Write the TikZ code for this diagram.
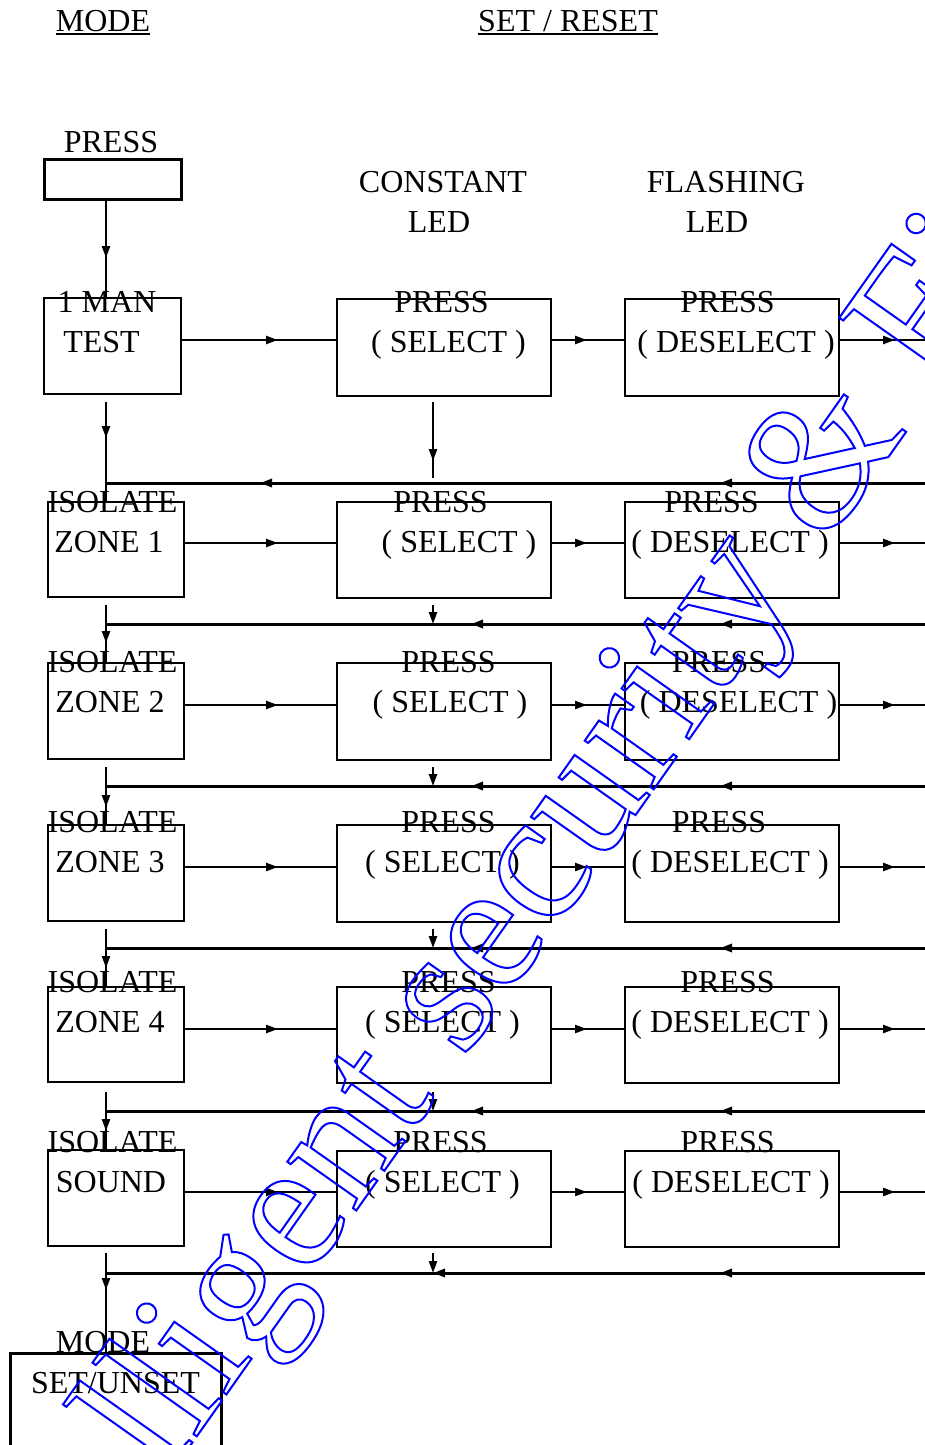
\documentclass[tikz,border=0pt]{standalone}
\usepackage{fontspec}
\setmainfont{Liberation Serif}
\usetikzlibrary{arrows.meta,decorations.markings}
\tikzset{
  bx/.style={draw, line width=2.4pt, inner sep=0pt, outer sep=0pt, anchor=north west},
  lbl/.style={anchor=base, inner sep=0pt, font=\fontsize{32}{38}\selectfont},
  ln/.style={line width=2.4pt},
  rln/.style={line width=3pt},
  tipa/.tip={Triangle[length=12pt,width=8pt]},
  mk/.style={postaction={decorate}, decoration={markings, mark=at position #1 with {\arrow{tipa}}}},
  mktwo/.style 2 args={postaction={decorate}, decoration={markings, mark=at position #1 with {\arrow{tipa}}, mark=at position #2 with {\arrow{tipa}}}},
  uline/.style={line width=1.6pt},
}
\begin{document}
\begin{tikzpicture}[x=1pt,y=-1pt]
\useasboundingbox (0,0) rectangle (925,1445);
\fill[white] (0,0) rectangle (925,1445);

% headers
\node[lbl] (hmode) at (103,32) {MODE};
\node[lbl] (hset) at (568,32) {SET / RESET};
\draw[uline] ([yshift=-2pt]hmode.base west) -- ([yshift=-2pt]hmode.base east);
\draw[uline] ([yshift=-2pt]hset.base west) -- ([yshift=-2pt]hset.base east);
\node[lbl] (hpress) at (111,152) {PRESS};
\node[lbl] (hconst) at (443,192) {CONSTANT};
\node[lbl] (hled1) at (439,232) {LED};
\node[lbl] (hflash) at (726,192) {FLASHING};
\node[lbl] (hled2) at (717,232) {LED};

% left column boxes
\node[bx, line width=3pt, minimum width=137pt, minimum height=40pt] (pbox) at (44,159) {};
\node[bx, line width=2.7pt, minimum width=137pt, minimum height=96pt] (test) at (44,298) {};
\node[bx, minimum width=136pt, minimum height=95pt] (z1) at (48,502) {};
\node[bx, minimum width=136pt, minimum height=96pt] (z2) at (48,663) {};
\node[bx, minimum width=136pt, minimum height=96pt] (z3) at (48,825) {};
\node[bx, minimum width=136pt, minimum height=95pt] (z4) at (48,987) {};
\node[bx, minimum width=136pt, minimum height=96pt] (snd) at (48,1150) {};
\node[bx, line width=3pt, minimum width=211pt, minimum height=130pt] (mbox) at (10,1353) {};

% select / deselect boxes
\node[bx, minimum width=214pt, minimum height=97pt] (s0) at (337,299) {};
\node[bx, minimum width=214pt, minimum height=97pt] (d0) at (625,299) {};
\node[bx, minimum width=214pt, minimum height=96pt] (s1) at (337,502) {};
\node[bx, minimum width=214pt, minimum height=96pt] (d1) at (625,502) {};
\node[bx, minimum width=214pt, minimum height=97pt] (s2) at (337,663) {};
\node[bx, minimum width=214pt, minimum height=97pt] (d2) at (625,663) {};
\node[bx, minimum width=214pt, minimum height=97pt] (s3) at (337,825) {};
\node[bx, minimum width=214pt, minimum height=97pt] (d3) at (625,825) {};
\node[bx, minimum width=214pt, minimum height=96pt] (s4) at (337,987) {};
\node[bx, minimum width=214pt, minimum height=96pt] (d4) at (625,987) {};
\node[bx, minimum width=214pt, minimum height=96pt] (s5) at (337,1151) {};
\node[bx, minimum width=214pt, minimum height=96pt] (d5) at (625,1151) {};

% left labels
\node[lbl] (t0a) at (107,312) {1 MAN};
\node[lbl] (t0b) at (101.5,352) {TEST};
\node[lbl] (t1a) at (112.5,512) {ISOLATE};
\node[lbl] (t1b) at (109,552) {ZONE 1};
\node[lbl] (t2a) at (112.5,672) {ISOLATE};
\node[lbl] (t2b) at (110,712) {ZONE 2};
\node[lbl] (t3a) at (112.5,832) {ISOLATE};
\node[lbl] (t3b) at (110,872) {ZONE 3};
\node[lbl] (t4a) at (112.5,992) {ISOLATE};
\node[lbl] (t4b) at (110,1032) {ZONE 4};
\node[lbl] (t5a) at (112.5,1152) {ISOLATE};
\node[lbl] (t5b) at (111,1192) {SOUND};
\node[lbl] (tma) at (103,1352) {MODE};
\node[lbl] (tmb) at (115.5,1393) {SET/UNSET};

% select labels
\node[lbl] (sp0) at (441.5,312) {PRESS};
\node[lbl] (st0) at (448.5,352) {( SELECT )};
\node[lbl] (sp1) at (440.5,512) {PRESS};
\node[lbl] (st1) at (459,552) {( SELECT )};
\node[lbl] (sp2) at (448.5,672) {PRESS};
\node[lbl] (st2) at (450,712) {( SELECT )};
\node[lbl] (sp3) at (448.5,832) {PRESS};
\node[lbl] (st3) at (442.5,872) {( SELECT )};
\node[lbl] (sp4) at (448.5,992) {PRESS};
\node[lbl] (st4) at (442.5,1032) {( SELECT )};
\node[lbl] (sp5) at (440.5,1152) {PRESS};
\node[lbl] (st5) at (442.5,1192) {( SELECT )};

% deselect labels
\node[lbl] (dp0) at (727.5,312) {PRESS};
\node[lbl] (dt0) at (736,352) {( DESELECT )};
\node[lbl] (dp1) at (711.5,512) {PRESS};
\node[lbl] (dt1) at (730,552) {( DESELECT )};
\node[lbl] (dp2) at (719,672) {PRESS};
\node[lbl] (dt2) at (738.5,712) {( DESELECT )};
\node[lbl] (dp3) at (719,832) {PRESS};
\node[lbl] (dt3) at (730,872) {( DESELECT )};
\node[lbl] (dp4) at (727.5,992) {PRESS};
\node[lbl] (dt4) at (730,1032) {( DESELECT )};
\node[lbl] (dp5) at (727.5,1152) {PRESS};
\node[lbl] (dt5) at (731,1192) {( DESELECT )};

% coordinates at page edge and junctions
\coordinate (o0) at (926,340);
\coordinate (o1) at (926,543);
\coordinate (o2) at (926,705);
\coordinate (o3) at (926,867);
\coordinate (o4) at (926,1029);
\coordinate (o5) at (926,1192);
\coordinate (i0) at (926,483);
\coordinate (i1) at (926,624);
\coordinate (i2) at (926,786);
\coordinate (i3) at (926,948);
\coordinate (i4) at (926,1111);
\coordinate (i5) at (926,1273);
\coordinate (j0) at (106,483);
\coordinate (j1) at (106,624);
\coordinate (j2) at (106,786);
\coordinate (j3) at (106,948);
\coordinate (j4) at (106,1111);
\coordinate (j5) at (106,1273);
\coordinate (c0) at (433,478);
\coordinate (c1) at (433,624);
\coordinate (c2) at (433,786);
\coordinate (c3) at (433,948);
\coordinate (c4) at (433,1111);
\coordinate (c5) at (433,1273);

% horizontal forward arrows
\draw[ln, mk=97pt] (test.east |- o0) -- (s0.west |- o0);
\draw[ln, mk=36pt] (s0.east |- o0) -- (d0.west |- o0);
\draw[ln, mk=56pt] (d0.east |- o0) -- (o0);
\draw[ln, mk=94pt] (z1.east |- o1) -- (s1.west |- o1);
\draw[ln, mk=36pt] (s1.east |- o1) -- (d1.west |- o1);
\draw[ln, mk=56pt] (d1.east |- o1) -- (o1);
\draw[ln, mk=94pt] (z2.east |- o2) -- (s2.west |- o2);
\draw[ln, mk=36pt] (s2.east |- o2) -- (d2.west |- o2);
\draw[ln, mk=56pt] (d2.east |- o2) -- (o2);
\draw[ln, mk=94pt] (z3.east |- o3) -- (s3.west |- o3);
\draw[ln, mk=36pt] (s3.east |- o3) -- (d3.west |- o3);
\draw[ln, mk=56pt] (d3.east |- o3) -- (o3);
\draw[ln, mk=94pt] (z4.east |- o4) -- (s4.west |- o4);
\draw[ln, mk=36pt] (s4.east |- o4) -- (d4.west |- o4);
\draw[ln, mk=56pt] (d4.east |- o4) -- (o4);
\draw[ln, mk=94pt] (snd.east |- o5) -- (s5.west |- o5);
\draw[ln, mk=36pt] (s5.east |- o5) -- (d5.west |- o5);
\draw[ln, mk=56pt] (d5.east |- o5) -- (o5);

% return lines
\draw[rln, mktwo={206pt}{666pt}] (i0) -- (j0);
\draw[rln, mktwo={206pt}{455pt}] (i1) -- (j1);
\draw[rln, mktwo={206pt}{455pt}] (i2) -- (j2);
\draw[rln, mktwo={206pt}{455pt}] (i3) -- (j3);
\draw[rln, mktwo={206pt}{455pt}] (i4) -- (j4);
\draw[rln, mktwo={206pt}{493pt}] (i5) -- (j5);

% left column verticals
\draw[ln, line width=2.7pt, mk=59pt] (pbox.south -| j0) -- (test.north -| j0);
\draw[ln, mk=36pt] ([yshift=-8pt]test.south -| j0) -- (z1.north -| j0);
\draw[ln, mk=38pt] ([yshift=-8pt]z1.south -| j1) -- (z2.north -| j1);
\draw[ln, mk=40pt] ([yshift=-8pt]z2.south -| j2) -- (z3.north -| j2);
\draw[ln, mk=39pt] ([yshift=-8pt]z3.south -| j3) -- (z4.north -| j3);
\draw[ln, mk=39pt] ([yshift=-10pt]z4.south -| j4) -- (snd.north -| j4);
\draw[ln, mk=37pt] ([yshift=-7pt]snd.south -| j5) -- (mbox.north -| j5);

% select column verticals
\draw[ln, mk=59pt] ([yshift=-6pt]s0.south -| c0) -- (c0);
\draw[ln, -tipa] ([yshift=-7pt]s1.south -| c1) -- (c1);
\draw[ln, -tipa] ([yshift=-7pt]s2.south -| c2) -- (c2);
\draw[ln, -tipa] ([yshift=-7pt]s3.south -| c3) -- (c3);
\draw[ln, -tipa] ([yshift=-9pt]s4.south -| c4) -- (c4);
\draw[ln, -tipa] ([yshift=-6pt]s5.south -| c5) -- (c5);

% watermark
\begin{scope}
\clip (0,0) rectangle (925,1445);
\node[anchor=base west, inner sep=0pt, rotate=54.77, text=blue,
  font=\fontsize{184}{184}\selectfont] (wm) at (0,1715)
  {\special{pdf:literal direct 2 w 1 Tr}Intelligent security \& Fire\special{pdf:literal direct 0 Tr}};
\end{scope}
\end{tikzpicture}
\end{document}
